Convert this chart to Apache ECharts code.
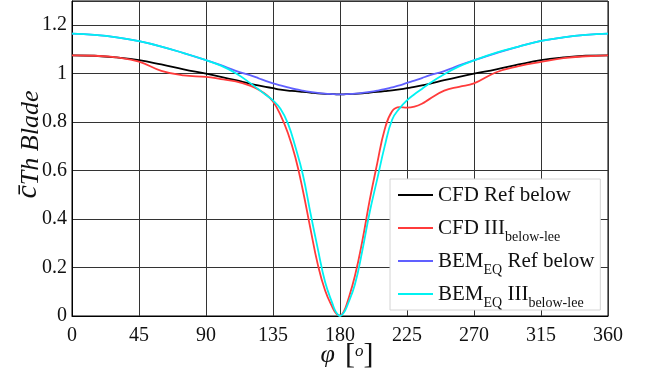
<!DOCTYPE html>
<html><head><meta charset="utf-8">
<script src="https://cdn.jsdelivr.net/npm/echarts@6/dist/echarts.min.js"></script>
<style>html,body{margin:0;padding:0;background:#fff}#c{width:649px;height:378px}</style>
</head><body><div id="c"></div>
<script>
// azimuth angles (deg)
const angles = [0,15,30,45,60,75,90,100,110,120,125,130,135,140,145,150,155,160,165,170,175,177.5,180,182.5,
  185,190,195,200,205,210,215,220,225,230,235,240,250,260,270,285,300,315,330,345,360];
// CFD Ref below
const cfdRef = [1.076,1.074,1.067,1.056,1.038,1.018,1.000,0.987,0.973,0.958,0.952,0.946,0.940,0.934,0.930,0.928,0.925,0.922,0.919,0.917,0.916,0.915,0.915,0.915,
  0.916,0.917,0.919,0.922,0.925,0.928,0.931,0.935,0.940,0.946,0.952,0.958,0.973,0.987,1.000,1.018,1.038,1.056,1.067,1.074,1.076];
// CFD III below-lee
const cfdIII = [1.076,1.074,1.067,1.050,1.012,0.993,0.987,0.978,0.968,0.950,0.935,0.915,0.885,0.830,0.755,0.655,0.520,0.365,0.215,0.105,0.035,0.010,0.002,0.018,
  0.058,0.165,0.310,0.480,0.630,0.770,0.845,0.862,0.860,0.864,0.876,0.895,0.930,0.946,0.960,1.006,1.031,1.049,1.064,1.072,1.076];
// BEM_EQ Ref below
const bemRef = [1.165,1.160,1.150,1.134,1.112,1.085,1.056,1.035,1.012,0.993,0.982,0.970,0.960,0.952,0.944,0.936,0.930,0.925,0.921,0.918,0.916,0.915,0.915,0.915,
  0.916,0.918,0.921,0.925,0.930,0.936,0.944,0.952,0.962,0.971,0.982,0.993,1.011,1.034,1.055,1.085,1.112,1.135,1.150,1.160,1.165];
// BEM_EQ III below-lee
const bemIII = [1.165,1.160,1.150,1.134,1.112,1.085,1.056,1.033,1.002,0.960,0.937,0.913,0.890,0.855,0.795,0.698,0.585,0.430,0.280,0.140,0.050,0.014,0.000,0.013,
  0.045,0.130,0.270,0.430,0.565,0.700,0.810,0.857,0.890,0.915,0.937,0.960,0.998,1.030,1.055,1.087,1.112,1.135,1.150,1.160,1.165];

const xMin = 0, xMax = 360, xStep = 45;
const yMin = 0, yMax = 1.3, yStep = 0.2;

const names = ['CFD Ref below','CFD III below-lee','BEM EQ Ref below','BEM EQ III below-lee'];
const colors = ['#000000','#ff3b3b','#6060ff','#00f2f2'];
const values = [cfdRef, cfdIII, bemRef, bemIII];
const legendText = {
  'CFD Ref below': '{m|CFD Ref below}',
  'CFD III below-lee': '{m|CFD III}{s|below-lee}',
  'BEM EQ Ref below': '{m|BEM}{s|EQ}{m| Ref below}',
  'BEM EQ III below-lee': '{m|BEM}{s|EQ}{m| III}{s|below-lee}'
};

const font = 'Liberation Serif';
const chart = echarts.init(document.getElementById('c'), null, {renderer:'canvas'});
chart.setOption({
  animation:false,
  backgroundColor:'#fff',
  grid:{left:72,right:41,top:1,bottom:62,show:true,borderColor:'#000',borderWidth:1,
    containLabel:false,outerBoundsMode:'none'},
  legend:{
    orient:'vertical', left:390, top:179,
    padding:[0,6,0,8], itemGap:1, itemWidth:35, itemHeight:2, icon:'rect',
    backgroundColor:'#fff', borderColor:'#d4d4d4', borderWidth:1, borderRadius:0,
    formatter:n=>legendText[n],
    textStyle:{fontFamily:font,fontSize:21,color:'#111',lineHeight:32,
      rich:{m:{fontFamily:font,fontSize:21,color:'#111',lineHeight:32,verticalAlign:'middle'},
            s:{fontFamily:font,fontSize:14,color:'#111',lineHeight:32,verticalAlign:'bottom'}}},
    data:names
  },
  xAxis:{type:'value',min:xMin,max:xMax,interval:xStep,
    axisLine:{show:true,lineStyle:{color:'#000',width:1}},
    axisTick:{show:false},
    axisLabel:{fontFamily:font,fontSize:20,color:'#111',margin:10},
    splitLine:{show:true,lineStyle:{color:'#333',width:1}},
    name:'{phi|φ}{g|}{br|[}{o|o}{br|]}', nameLocation:'middle', nameGap:25, nameMoveOverlap:false,
    nameTextStyle:{padding:[0,0,0,14],lineHeight:28,rich:{
      phi:{fontFamily:font,fontStyle:'italic',fontSize:26,color:'#111',lineHeight:28},
      g:{width:10,lineHeight:28},
      br:{fontFamily:font,fontSize:30,color:'#111',lineHeight:28},
      o:{fontFamily:font,fontStyle:'italic',fontSize:17,color:'#111',lineHeight:28,padding:[0,0,6,0]}
    }}
  },
  yAxis:{type:'value',min:yMin,max:yMax,interval:yStep,
    axisLine:{show:true,lineStyle:{color:'#000',width:1}},
    axisTick:{show:false},
    axisLabel:{fontFamily:font,fontSize:20,color:'#111',margin:5,showMaxLabel:false},
    splitLine:{show:true,lineStyle:{color:'#333',width:1}},
    name:'{c|c\u0304}{s|Th Blade}', nameLocation:'middle', nameGap:28, nameMoveOverlap:false,
    nameTextStyle:{padding:[0,0,0,28],rich:{
      c:{fontFamily:font,fontStyle:'italic',fontSize:30,color:'#111'},
      s:{fontFamily:font,fontStyle:'italic',fontSize:26,color:'#111',padding:[6,0,0,0]}
    }}
  },
  series: names.map((n,i)=>({
    name:n, type:'line', symbol:'none', smooth:0.45,
    lineStyle:{color:colors[i],width:1.8}, itemStyle:{color:colors[i]},
    data: angles.map((a,k)=>[a, values[i][k]])
  }))
});
</script></body></html>
